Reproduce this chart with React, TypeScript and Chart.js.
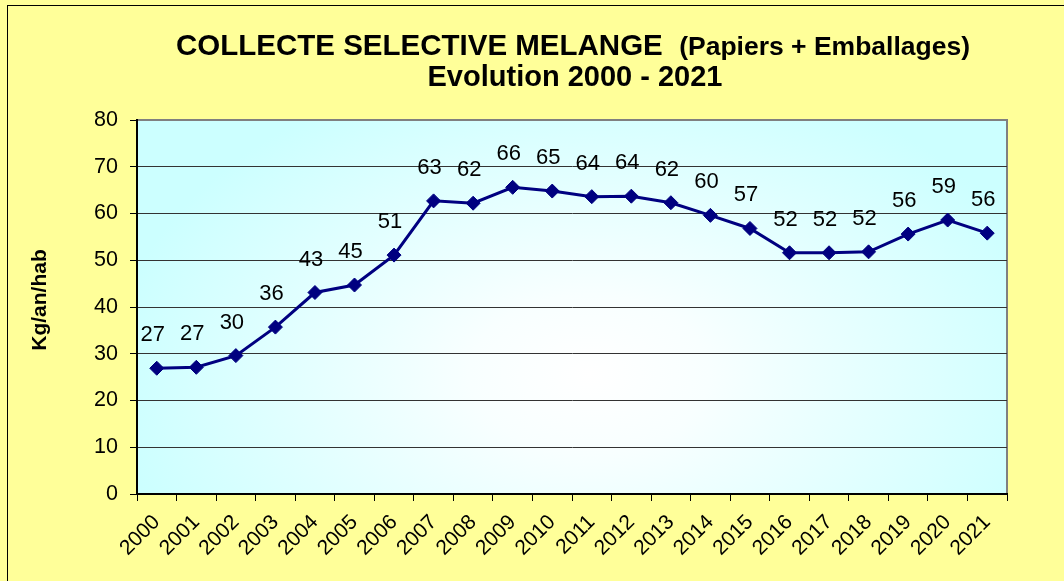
import React, { useEffect, useRef } from "react";
import { Chart, registerables } from "chart.js";

Chart.register(...registerables);

const years = [
  "2000", "2001", "2002", "2003", "2004", "2005", "2006", "2007", "2008", "2009", "2010",
  "2011", "2012", "2013", "2014", "2015", "2016", "2017", "2018", "2019", "2020", "2021",
];
const kgPerHab = [
  26.9, 27.1, 29.6, 35.7, 43.1, 44.7, 51.1, 62.7, 62.2, 65.6, 64.8,
  63.6, 63.7, 62.3, 59.6, 56.8, 51.6, 51.6, 51.8, 55.6, 58.6, 55.8,
];
const yMin = 0;
const yMax = 80;
const yStep = 10;
const titleMain = "COLLECTE SELECTIVE MELANGE";
const titleSub = "(Papiers + Emballages)";
const titleLine2 = "Evolution 2000 - 2021";
const yAxisTitle = "Kg/an/hab";

const FONT = "'Liberation Sans', Arial, sans-serif";

const decorPlugin = {
  id: "decor",
  beforeDraw(chart: any) {
    const ctx = chart.ctx as CanvasRenderingContext2D;
    const { width, height, chartArea } = chart;
    ctx.save();
    ctx.fillStyle = "#FFFF99";
    ctx.fillRect(0, 0, width, height);
    ctx.strokeStyle = "#000";
    ctx.lineWidth = 1;
    ctx.strokeRect(7.5, 5.5, width + 10, height + 10);

    const { left, top, right, bottom } = chartArea;
    const w = right - left;
    const h = bottom - top;
    const cx = left + w * 0.52;
    const cy = top + h * 0.68;
    const rx = w * 0.55;
    const ry = h * 0.85;
    ctx.save();
    ctx.beginPath();
    ctx.rect(left, top, w, h);
    ctx.clip();
    ctx.fillStyle = "#CCFFFF";
    ctx.fillRect(left, top, w, h);
    ctx.translate(cx, cy);
    ctx.scale(1, ry / rx);
    const g = ctx.createRadialGradient(0, 0, 0, 0, 0, rx);
    g.addColorStop(0, "#FFFFFF");
    g.addColorStop(0.25, "#F8FFFF");
    g.addColorStop(1, "#CCFFFF");
    ctx.fillStyle = g;
    ctx.fillRect(-rx * 2, -rx * 2, rx * 4, rx * 4);
    ctx.restore();

    ctx.strokeStyle = "#808080";
    ctx.lineWidth = 2;
    ctx.strokeRect(left, top, w, h);

    // Title
    ctx.fillStyle = "#000";
    ctx.textBaseline = "alphabetic";
    ctx.textAlign = "left";
    const mainFont = `bold 29.5px ${FONT}`;
    const subFont = `bold 26.5px ${FONT}`;
    ctx.font = mainFont;
    const wMain = ctx.measureText(titleMain).width;
    const gap = ctx.measureText("  ").width;
    ctx.font = subFont;
    const wSub = ctx.measureText(titleSub).width;
    const total = wMain + gap + wSub;
    const tcx = 573;
    const x = tcx - total / 2;
    ctx.font = mainFont;
    ctx.fillText(titleMain, x, 55);
    ctx.font = subFont;
    ctx.fillText(titleSub, x + wMain + gap, 55);
    ctx.font = `bold 29px ${FONT}`;
    ctx.textAlign = "center";
    ctx.fillText(titleLine2, 575, 86);

    // Y axis title
    ctx.save();
    ctx.translate(40, 300);
    ctx.rotate(-Math.PI / 2);
    ctx.font = `bold 21px ${FONT}`;
    ctx.textAlign = "center";
    ctx.textBaseline = "middle";
    ctx.fillText(yAxisTitle, 0, 0);
    ctx.restore();
    ctx.restore();
  },
  afterDatasetsDraw(chart: any) {
    const ctx = chart.ctx as CanvasRenderingContext2D;
    const meta = chart.getDatasetMeta(0);
    const values = chart.data.datasets[0].data as number[];
    ctx.save();
    ctx.fillStyle = "#000";
    ctx.font = `22px ${FONT}`;
    ctx.textAlign = "center";
    ctx.textBaseline = "alphabetic";
    meta.data.forEach((pt: any, i: number) => {
      ctx.fillText(String(Math.round(values[i])), pt.x - 4, pt.y - 27);
    });
    ctx.restore();
  },
};

export default function App() {
  const ref = useRef<HTMLCanvasElement | null>(null);
  useEffect(() => {
    document.body.style.margin = "0";
    const canvas = ref.current!;
    const chart = new Chart(canvas, {
      type: "line",
      data: {
        labels: years,
        datasets: [
          {
            data: kgPerHab,
            borderColor: "#000080",
            backgroundColor: "#000080",
            borderWidth: 3,
            tension: 0,
            pointStyle: "rectRot",
            pointRadius: 7,
            pointBorderWidth: 1,
            pointBackgroundColor: "#000080",
            pointBorderColor: "#000080",
          },
        ],
      },
      options: {
        responsive: false,
        animation: false,
        devicePixelRatio: 1,
        layout: { padding: { top: 120, right: 57, bottom: 0, left: 0 } },
        plugins: {
          legend: { display: false },
          title: { display: false },
          tooltip: { enabled: false },
        },
        scales: {
          x: {
            type: "category",
            offset: true,
            grid: {
              offset: true,
              drawOnChartArea: false,
              drawTicks: true,
              tickLength: 7,
              tickColor: "#000",
              tickWidth: 1,
            },
            border: { color: "#000", width: 2 },
            ticks: {
              autoSkip: false,
              maxRotation: 45,
              minRotation: 45,
              color: "#000",
              padding: 9,
              font: { family: FONT, size: 21 },
            },
            afterFit: (s: any) => {
              s.height = 87;
            },
          },
          y: {
            min: yMin,
            max: yMax,
            ticks: {
              stepSize: yStep,
              color: "#000",
              padding: 12,
              font: { family: FONT, size: 21.5 },
            },
            grid: {
              color: (c: any) => (c.tick && c.tick.value === yMax ? "rgba(0,0,0,0)" : "#333"),
              lineWidth: 1,
              tickLength: 7,
              tickColor: "#000",
              tickWidth: 1,
            },
            border: { color: "#000", width: 2 },
            afterFit: (s: any) => {
              s.width = 137;
            },
          },
        },
      },
      plugins: [decorPlugin],
    });
    return () => chart.destroy();
  }, []);
  return <canvas ref={ref} width={1064} height={581} style={{ display: "block" }} />;
}
